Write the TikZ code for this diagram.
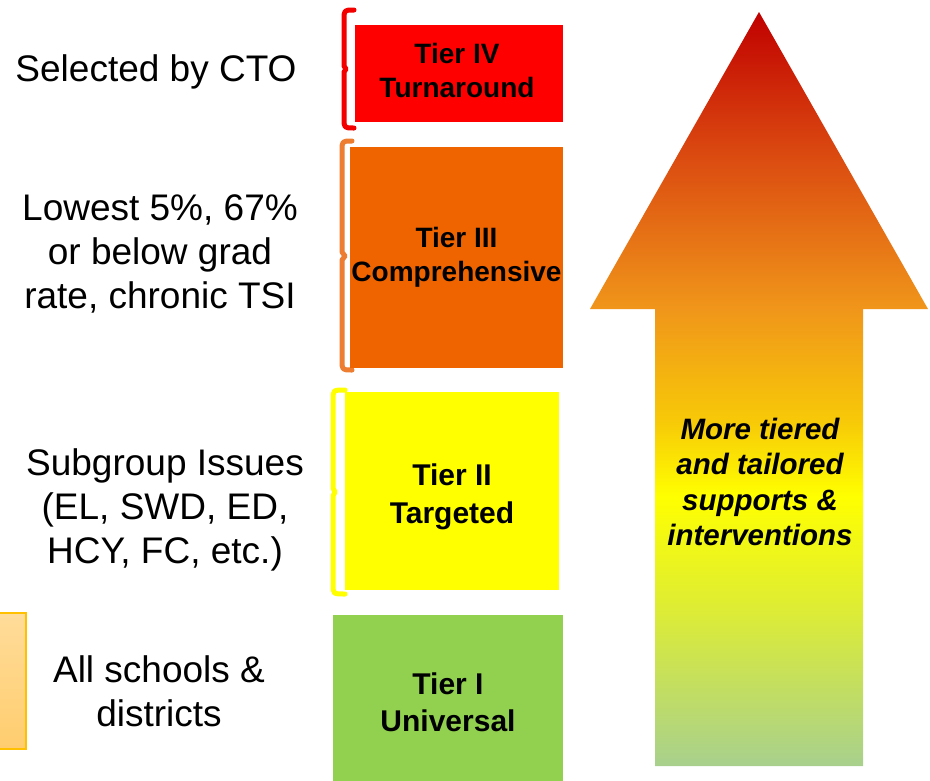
\documentclass[tikz,border=0pt]{standalone}
\usepackage{fontspec}
\setmainfont{Liberation Sans}
\definecolor{tierIVc}{HTML}{FF0000}
\definecolor{tierIIIc}{HTML}{F06400}
\definecolor{tierIIc}{HTML}{FFFF00}
\definecolor{tierIc}{HTML}{92D050}
\definecolor{braceIV}{HTML}{F20000}
\definecolor{braceIII}{HTML}{ED7D31}
\definecolor{braceII}{HTML}{FFFF00}
\definecolor{ag0}{HTML}{A8D08D}
\definecolor{ag1}{HTML}{E0EE30}
\definecolor{ag2}{HTML}{FFFF00}
\definecolor{ag3}{HTML}{F7C808}
\definecolor{ag4}{HTML}{F0961A}
\definecolor{ag5}{HTML}{DA4810}
\definecolor{ag6}{HTML}{C00000}
\definecolor{sideTop}{HTML}{FFDC9A}
\definecolor{sideBot}{HTML}{FFCD6E}
\definecolor{sideEdge}{HTML}{FFC000}
\pgfdeclareverticalshading{arrowgrad}{100bp}{color(0bp)=(ag0); color(25bp)=(ag0); color(36bp)=(ag1); color(42.9bp)=(ag2); color(48bp)=(ag3); color(55.3bp)=(ag4); color(65.8bp)=(ag5); color(75bp)=(ag6); color(100bp)=(ag6)}
\begin{document}
\begin{tikzpicture}[x=1pt,y=-1pt,
  lefttext/.style={align=center, inner sep=0pt, font=\fontsize{37}{44}\selectfont},
  tierbox/.style={draw=none, inner sep=0pt},
  tiertext/.style={align=center, inner sep=0pt},
  smalltier/.style={font=\fontsize{28}{34}\selectfont\bfseries},
  bigtier/.style={font=\fontsize{30}{37.5}\selectfont\bfseries},
  arrowtext/.style={align=center, inner sep=0pt, font=\fontsize{29.5}{35.5}\selectfont\bfseries\itshape},
  bracestroke/.style={line width=5pt, line cap=round, line join=round}
]
\useasboundingbox (0,0) rectangle (930,780);

% side box at bottom-left
\shade[top color=sideTop, bottom color=sideBot, draw=sideEdge, line width=1.2pt] (-5,613) rectangle (26,749);

% big arrow
\shade[shading=arrowgrad] (759,12) -- (928,309) -- (863,309) -- (863,766) -- (655,766) -- (655,309) -- (590,309) -- cycle;
\node[arrowtext] (arrtext) at (760,482) {More tiered\\and tailored\\supports \&\\interventions};

% brackets
\draw[bracestroke, draw=braceIV] (354,10) .. controls (344,10) .. (344,20) -- (344,66) -- (346,69) -- (344,72) -- (344,118) .. controls (344,128) .. (354,128);
\draw[bracestroke, draw=braceIII] (352,141) .. controls (342,141) .. (342,151) -- (342,252) -- (345,256) -- (342,260) -- (342,360) .. controls (342,370) .. (352,370);
\draw[bracestroke, draw=braceII] (345,390) .. controls (333,390) .. (333,400) -- (333,488) -- (335,492) -- (333,496) -- (333,584) .. controls (333,594) .. (345,594);

% tier boxes
\node[tierbox, fill=tierIVc, minimum width=208pt, minimum height=97pt] (t4) at (459,73.5) {};
\node[tierbox, fill=tierIIIc, minimum width=213pt, minimum height=221pt] (t3) at (456.5,257.5) {};
\node[tierbox, fill=tierIIc, minimum width=214pt, minimum height=198pt] (t2) at (452,491) {};
\node[tierbox, fill=tierIc, minimum width=230pt, minimum height=175pt] (t1) at (448,702.5) {};
\node[tiertext, smalltier] (t4text) at (457,70.5) {Tier IV\\Turnaround};
\node[tiertext, smalltier] (t3text) at (456.5,257.5) {Tier III\\Comprehensive};
\node[tiertext, bigtier] (t2text) at (452,497) {Tier II\\Targeted};
\node[tiertext, bigtier] (t1text) at (448,702.5) {Tier I\\Universal};

% left labels
\node[lefttext] (l4) at (156,71.5) {Selected by CTO};
\node[lefttext] (l3) at (160,253.5) {Lowest 5\%, 67\%\\or below grad\\rate, chronic TSI};
\node[lefttext] (l2) at (165,509.5) {Subgroup Issues\\(EL, SWD, ED,\\HCY, FC, etc.)};
\node[lefttext] (l1) at (159,691) {All schools \&\\districts};
\end{tikzpicture}
\end{document}
